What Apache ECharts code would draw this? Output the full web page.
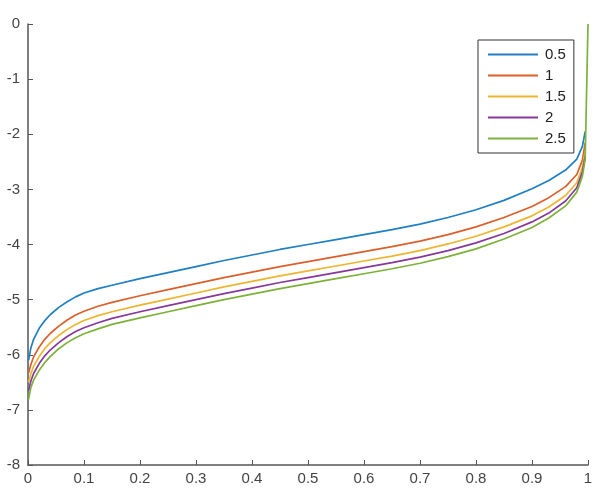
<!DOCTYPE html>
<html>
<head>
<meta charset="utf-8">
<script src="https://cdn.jsdelivr.net/npm/echarts@6/dist/echarts.min.js"></script>
<style>html,body{margin:0;padding:0;background:#fff;}#c{width:602px;height:501px;}</style>
</head>
<body>
<div id="c"></div>
<script>
const xs = [0.001, 0.005, 0.01, 0.02, 0.03, 0.04, 0.055, 0.07, 0.085, 0.1, 0.125, 0.15, 0.2, 0.25, 0.3, 0.35, 0.4, 0.45, 0.5, 0.55, 0.6, 0.65, 0.7, 0.75, 0.8, 0.85, 0.9, 0.93, 0.96, 0.98, 0.99, 0.995];
const seriesNames = ['0.5', '1', '1.5', '2', '2.5'];
const y05 = [-6.10, -5.88, -5.72, -5.52, -5.38, -5.27, -5.14, -5.04, -4.95, -4.88, -4.80, -4.74, -4.62, -4.51, -4.40, -4.29, -4.19, -4.09, -4.00, -3.91, -3.82, -3.73, -3.63, -3.51, -3.37, -3.20, -2.99, -2.84, -2.65, -2.45, -2.22, -1.95];
const y10 = [-6.33, -6.18, -6.04, -5.86, -5.72, -5.61, -5.48, -5.37, -5.28, -5.21, -5.12, -5.05, -4.93, -4.82, -4.71, -4.60, -4.50, -4.40, -4.31, -4.22, -4.13, -4.04, -3.94, -3.82, -3.68, -3.51, -3.31, -3.15, -2.95, -2.73, -2.47, -2.15];
const y15 = [-6.50, -6.35, -6.21, -6.03, -5.89, -5.78, -5.65, -5.54, -5.45, -5.38, -5.29, -5.22, -5.10, -4.99, -4.88, -4.77, -4.67, -4.57, -4.48, -4.39, -4.30, -4.21, -4.11, -3.99, -3.85, -3.68, -3.48, -3.32, -3.11, -2.88, -2.60, -2.30];
const y20 = [-6.66, -6.48, -6.34, -6.16, -6.02, -5.91, -5.78, -5.67, -5.58, -5.51, -5.42, -5.34, -5.22, -5.11, -5.00, -4.89, -4.79, -4.69, -4.60, -4.51, -4.42, -4.33, -4.23, -4.11, -3.97, -3.80, -3.59, -3.43, -3.21, -2.97, -2.68, -2.40];
const y25 = [-6.81, -6.60, -6.46, -6.28, -6.14, -6.03, -5.89, -5.78, -5.69, -5.62, -5.53, -5.45, -5.33, -5.22, -5.11, -5.00, -4.90, -4.80, -4.71, -4.62, -4.53, -4.44, -4.34, -4.22, -4.08, -3.90, -3.69, -3.52, -3.30, -3.05, -2.76, -2.45];
const x25End = 1.0, y25End = 0;
const colors = ['#1f7fc4', '#dc5f2b', '#eeb52f', '#86399a', '#7cb23a'];

function pairs(x, y) { return x.map((v, i) => [v, y[i]]); }
const allY = [y05, y10, y15, y20, y25];
const chart = echarts.init(document.getElementById('c'), null, {renderer: 'canvas'});
const series = allY.map((ys, k) => {
  const d = pairs(xs, ys);
  if (k === 4) d.push([x25End, y25End]);
  return {
    name: seriesNames[k], type: 'line', data: d, showSymbol: false, symbol: 'none',
    smooth: false,
    lineStyle: {width: 1.7, color: colors[k]}, itemStyle: {color: colors[k]},
    animation: false
  };
});
const font = '"Liberation Sans", Arial, sans-serif';
chart.setOption({
  animation: false,
  grid: {left: 28, right: 14, top: 24, bottom: 36, containLabel: false},
  legend: {
    orient: 'vertical', left: 478, top: 40,
    data: seriesNames,
    icon: 'rect',
    itemWidth: 50, itemHeight: 2, itemGap: 6,
    padding: [7, 8, 7, 10],
    borderColor: '#333', borderWidth: 1, backgroundColor: '#fff',
    textStyle: {fontFamily: font, fontSize: 15, lineHeight: 15, color: '#222', padding: [0, 0, 0, 2]}
  },
  xAxis: {
    type: 'value', min: 0, max: 1, interval: 0.1,
    axisLine: {show: true, onZero: false, lineStyle: {color: '#555', width: 1.5}},
    axisTick: {show: true, inside: true, length: 5, lineStyle: {color: '#555', width: 1}},
    axisLabel: {fontFamily: font, fontSize: 15, color: '#444', margin: 6},
    splitLine: {show: false}
  },
  yAxis: {
    type: 'value', min: -8, max: 0, interval: 1,
    axisLine: {show: true, onZero: false, lineStyle: {color: '#555', width: 1.5}},
    axisTick: {show: true, inside: true, length: 5, lineStyle: {color: '#555', width: 1}},
    axisLabel: {fontFamily: font, fontSize: 15, color: '#444', margin: 8},
    splitLine: {show: false}
  },
  series: series
});
</script>
</body>
</html>
